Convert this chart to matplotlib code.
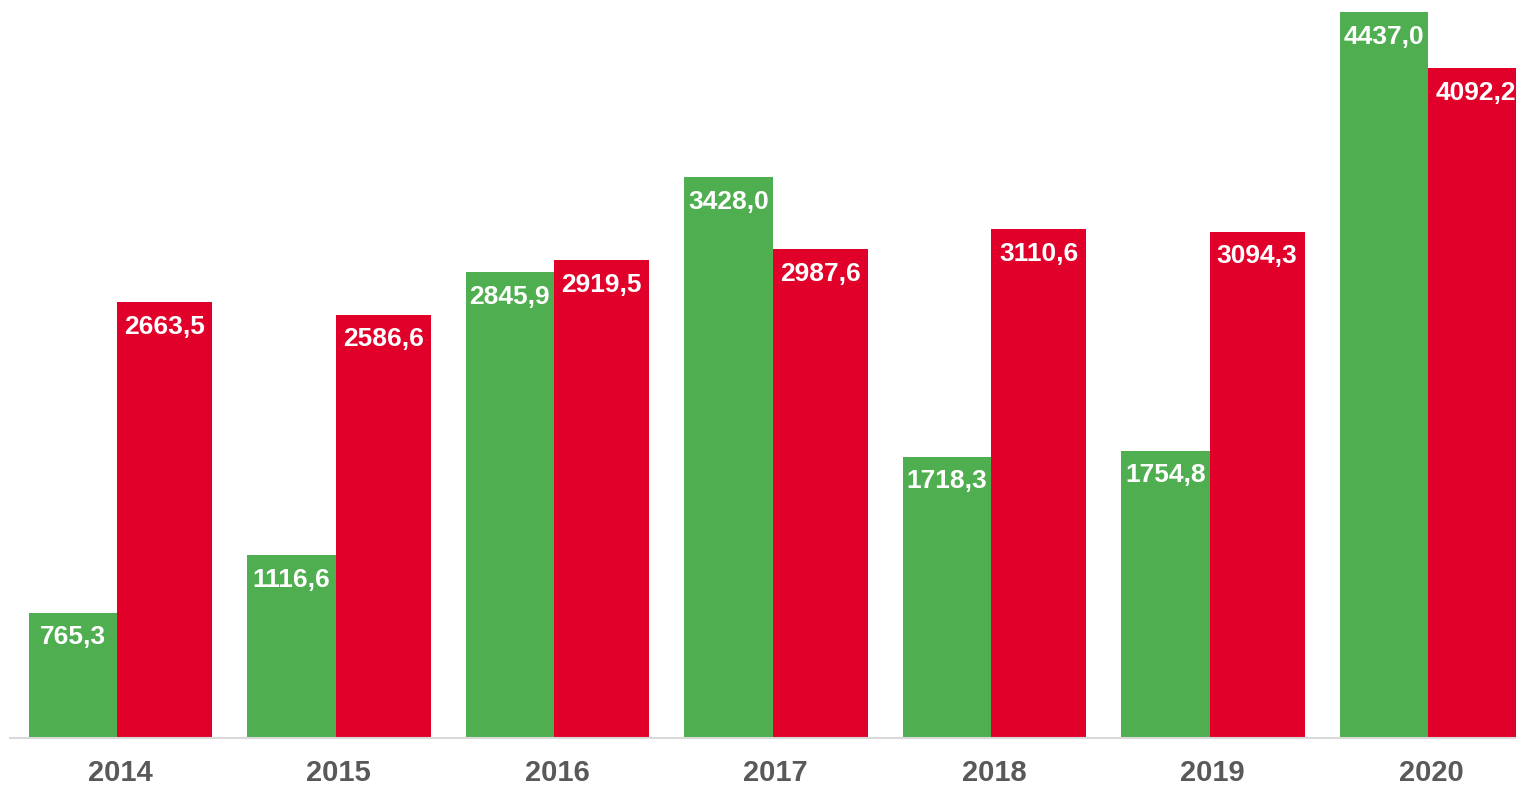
import matplotlib.pyplot as plt
import numpy as np

years = ["2014", "2015", "2016", "2017", "2018", "2019", "2020"]
green_vals = [765.3, 1116.6, 2845.9, 3428.0, 1718.3, 1754.8, 4437.0]
red_vals = [2663.5, 2586.6, 2919.5, 2987.6, 3110.6, 3094.3, 4092.2]

green = "#4EAE50"
red = "#E0002A"

plt.rcParams['font.family'] = ['Liberation Sans', 'DejaVu Sans']

fig = plt.figure(figsize=(15.16, 7.86), dpi=100)
ax = fig.add_axes([10 / 1516, 48 / 786, 1506 / 1516, 726 / 786])

x = np.arange(len(years))
b1 = ax.bar(x - 0.418, green_vals, width=0.405, align='edge', color=green)
b2 = ax.bar(x - 0.013, red_vals, width=0.435, align='edge', color=red)

def fmt(v):
    return f"{v:.1f}".replace('.', ',')

for bars, vals in [(b1, green_vals), (b2, red_vals)]:
    for rect, v in zip(bars, vals):
        ax.annotate(fmt(v), (rect.get_x() + rect.get_width() / 2, v),
                    xytext=(0, -9), textcoords='offset points',
                    ha='center', va='top', color='white',
                    fontsize=19, fontweight='bold')

ax.set_xlim(-0.503, 6.389)
ax.set_ylim(0, 4437)
ax.set_xticks(x)
ax.set_xticklabels(years, fontsize=21, fontweight='bold', color='#595959')
ax.tick_params(axis='x', length=0, pad=15)
ax.set_yticks([])
for s in ['top', 'right', 'left']:
    ax.spines[s].set_visible(False)
ax.spines['bottom'].set_color('#D9D9D9')
ax.spines['bottom'].set_linewidth(1.5)

fig.savefig("out.png", dpi=100)
